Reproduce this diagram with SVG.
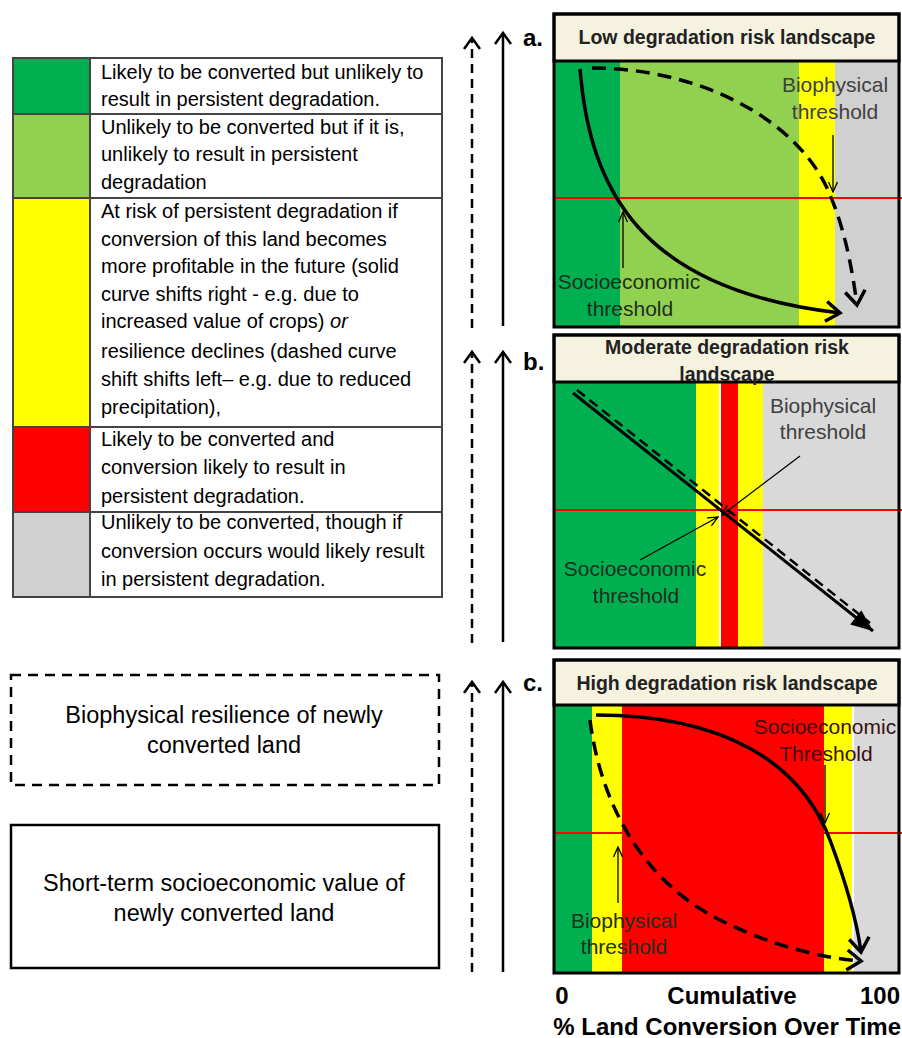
<svg xmlns="http://www.w3.org/2000/svg" width="902" height="1038" viewBox="0 0 902 1038">
<style>
.lg{font-family:"Liberation Sans",Arial,sans-serif;font-size:20px;fill:#000}
.bx{font-family:"Liberation Sans",Arial,sans-serif;font-size:23.5px;fill:#000;text-anchor:middle}
.hd{font-family:"Liberation Sans",Arial,sans-serif;font-size:19.5px;font-weight:bold;fill:#222;text-anchor:middle}
.lbl{font-family:"Liberation Sans",Arial,sans-serif;font-size:24px;font-weight:bold;fill:#000}
.th{font-family:"Liberation Sans",Arial,sans-serif;font-size:21px;text-anchor:middle}
.ax{font-family:"Liberation Sans",Arial,sans-serif;font-size:24px;font-weight:bold;fill:#000}
.cell{stroke:#444;stroke-width:2}
.frame{fill:none;stroke:#000;stroke-width:3}
.hdr{fill:#F5F2E0;stroke:#000;stroke-width:3}
.rl{stroke:#FF0000;stroke-width:2}
.big{fill:none;stroke:#000;stroke-width:3.5}
.dsh{stroke-dasharray:14 8}
.va{fill:none;stroke:#000;stroke-width:2.5}
.thin{fill:none;stroke:#000;stroke-width:1.3}
</style>
<defs>
<marker id="chevB" markerUnits="userSpaceOnUse" markerWidth="26" markerHeight="26" viewBox="0 0 26 26" refX="22" refY="13" orient="auto"><path d="M8,3 L22,13 L8,23" fill="none" stroke="#000" stroke-width="3.5"/></marker>
<marker id="chevS" markerUnits="userSpaceOnUse" markerWidth="20" markerHeight="20" viewBox="0 0 20 20" refX="17" refY="10" orient="auto"><path d="M6,2 L17,10 L6,18" fill="none" stroke="#000" stroke-width="2.5"/></marker>
<marker id="tri" markerUnits="userSpaceOnUse" markerWidth="26" markerHeight="26" viewBox="0 0 26 26" refX="24" refY="13" orient="auto"><path d="M2,4 L24,13 L2,22 z" fill="#000"/></marker>
<marker id="sm" markerUnits="userSpaceOnUse" markerWidth="12" markerHeight="12" viewBox="0 0 12 12" refX="11" refY="6" orient="auto"><path d="M1,1.5 L11,6 L1,10.5" fill="none" stroke="#000" stroke-width="1.3"/></marker>
</defs>
<rect width="902" height="1038" fill="#fff"/>

<!-- Legend -->
<g id="legend">
<rect x="13" y="58" width="77" height="56" fill="#00B050" class="cell"/>
<rect x="90" y="58" width="352" height="56" fill="#fff" class="cell"/>
<rect x="13" y="114" width="77" height="84" fill="#92D050" class="cell"/>
<rect x="90" y="114" width="352" height="84" fill="#fff" class="cell"/>
<rect x="13" y="198" width="77" height="229" fill="#FFFF00" class="cell"/>
<rect x="90" y="198" width="352" height="229" fill="#fff" class="cell"/>
<rect x="13" y="427" width="77" height="85" fill="#FF0000" class="cell"/>
<rect x="90" y="427" width="352" height="85" fill="#fff" class="cell"/>
<rect x="13" y="512" width="77" height="85" fill="#D0D0D0" class="cell"/>
<rect x="90" y="512" width="352" height="85" fill="#fff" class="cell"/>
<text class="lg" x="101" y="79">Likely to be converted but unlikely to</text>
<text class="lg" x="101" y="106">result in persistent degradation.</text>
<text class="lg" x="101" y="134">Unlikely to be converted but if it is,</text>
<text class="lg" x="101" y="161">unlikely to result in persistent</text>
<text class="lg" x="101" y="189">degradation</text>
<text class="lg" x="101" y="218">At risk of persistent degradation if</text>
<text class="lg" x="101" y="246">conversion of this land becomes</text>
<text class="lg" x="101" y="273">more profitable in the future (solid</text>
<text class="lg" x="101" y="301">curve shifts right - e.g. due to</text>
<text class="lg" x="101" y="328">increased value of crops) <tspan font-style="italic">or</tspan></text>
<text class="lg" x="101" y="358">resilience declines (dashed curve</text>
<text class="lg" x="101" y="386">shift shifts left– e.g. due to reduced</text>
<text class="lg" x="101" y="414">precipitation),</text>
<text class="lg" x="101" y="446">Likely to be converted and</text>
<text class="lg" x="101" y="474">conversion likely to result in</text>
<text class="lg" x="101" y="503">persistent degradation.</text>
<text class="lg" x="101" y="529">Unlikely to be converted, though if</text>
<text class="lg" x="101" y="558">conversion occurs would likely result</text>
<text class="lg" x="101" y="586">in persistent degradation.</text>
</g>

<g id="box-biophysical">
<rect x="11" y="675" width="428" height="110" fill="none" stroke="#000" stroke-width="2.5" stroke-dasharray="10 7"/>
<text class="bx" x="224" y="723">Biophysical resilience of newly</text>
<text class="bx" x="224" y="753">converted land</text>
</g>
<g id="box-socioeconomic">
<rect x="11" y="825" width="428" height="143" fill="none" stroke="#000" stroke-width="2.5"/>
<text class="bx" x="224" y="891">Short-term socioeconomic value of</text>
<text class="bx" x="224" y="921">newly converted land</text>
</g>

<!-- Panel a -->
<g id="panel-a">
<rect x="553" y="61" width="67" height="266" fill="#00B050"/>
<rect x="620" y="61" width="179" height="266" fill="#92D050"/>
<rect x="799" y="61" width="36" height="266" fill="#FFFF00"/>
<rect x="835" y="61" width="65" height="266" fill="#D0D0D0"/>
<line class="rl" x1="553" y1="198" x2="902" y2="198"/>
<rect class="hdr" x="554" y="14" width="345" height="47"/>
<text class="hd" x="727" y="44">Low  degradation  risk  landscape</text>
<rect class="frame" x="554" y="14" width="345" height="313"/>
<text class="lbl" x="523" y="46">a.</text>
<text class="th" x="835" y="92" fill="#404040">Biophysical</text>
<text class="th" x="835" y="119" fill="#404040">threshold</text>
<text class="th" x="629" y="289" fill="#1E2E1E">Socioeconomic</text>
<text class="th" x="630" y="316" fill="#1E2E1E">threshold</text>
</g>

<!-- Panel b -->
<g id="panel-b">
<rect x="553" y="382" width="143" height="266" fill="#00B050"/>
<rect x="696" y="382" width="23" height="266" fill="#FFFF00"/>
<rect x="721" y="382" width="17" height="266" fill="#FF0000"/>
<rect x="738" y="382" width="25" height="266" fill="#FFFF00"/>
<rect x="763" y="382" width="137" height="266" fill="#D9D9D9"/>
<line class="rl" x1="553" y1="510" x2="902" y2="510"/>
<rect class="hdr" x="554" y="335" width="345" height="47"/>
<text class="hd" x="727" y="354">Moderate  degradation  risk</text>
<text class="hd" x="727" y="381">landscape</text>
<rect class="frame" x="554" y="335" width="345" height="313"/>
<text class="lbl" x="523" y="370">b.</text>
<text class="th" x="823" y="413" fill="#404040">Biophysical</text>
<text class="th" x="823" y="439" fill="#404040">threshold</text>
<text class="th" x="635" y="576" fill="#1E2E1E">Socioeconomic</text>
<text class="th" x="636" y="603" fill="#1E2E1E">threshold</text>
</g>

<!-- Panel c -->
<g id="panel-c">
<rect x="553" y="705" width="39" height="268" fill="#00B050"/>
<rect x="592" y="705" width="30" height="268" fill="#FFFF00"/>
<rect x="622" y="705" width="202" height="268" fill="#FF0000"/>
<rect x="824" y="705" width="28" height="268" fill="#FFFF00"/>
<rect x="854" y="705" width="46" height="268" fill="#D9D9D9"/>
<line class="rl" x1="553" y1="833" x2="902" y2="833"/>
<rect class="hdr" x="554" y="660" width="345" height="45"/>
<text class="hd" x="727" y="690">High  degradation  risk  landscape</text>
<rect class="frame" x="554" y="660" width="345" height="313"/>
<text class="lbl" x="523" y="691">c.</text>
<text class="th" x="825" y="734" fill="#3A1010">Socioeconomic</text>
<text class="th" x="826" y="761" fill="#3A1010">Threshold</text>
<text class="th" x="624" y="928" fill="#1E2E1E">Biophysical</text>
<text class="th" x="624" y="954" fill="#1E2E1E">threshold</text>
</g>

<!-- Axis -->
<g id="axis">
<text class="ax" x="562" y="1004" text-anchor="middle">0</text>
<text class="ax" x="732" y="1004" text-anchor="middle">Cumulative</text>
<text class="ax" x="900" y="1004" text-anchor="end">100</text>
<text class="ax" x="901" y="1035" text-anchor="end">% Land Conversion Over Time</text>
</g>

<g id="connectors">
<!-- left vertical arrows -->
<line class="va" x1="472" y1="328" x2="472" y2="38" stroke-dasharray="9 6" marker-end="url(#chevS)"/>
<line class="va" x1="503" y1="326" x2="503" y2="33" marker-end="url(#chevS)"/>
<line class="va" x1="472" y1="643" x2="472" y2="352" stroke-dasharray="9 6" marker-end="url(#chevS)"/>
<line class="va" x1="503" y1="642" x2="503" y2="352" marker-end="url(#chevS)"/>
<line class="va" x1="472" y1="972" x2="472" y2="682" stroke-dasharray="9 6" marker-end="url(#chevS)"/>
<line class="va" x1="503" y1="972" x2="503" y2="682" marker-end="url(#chevS)"/>
<!-- panel a curves -->
<path class="big" d="M580,69 C590,190 640,290 840,313" marker-end="url(#chevB)"/>
<path class="big dsh" d="M592,68 C700,68 800,120 830,195 C845,230 852,268 857,305" marker-end="url(#chevB)"/>
<line class="thin" x1="833" y1="135" x2="833" y2="192" marker-end="url(#sm)"/>
<line class="thin" x1="623" y1="268" x2="623" y2="212" marker-end="url(#sm)"/>
<!-- panel b -->
<line x1="573" y1="393" x2="873" y2="631" stroke="#000" stroke-width="3" marker-end="url(#tri)"/>
<line x1="577" y1="390" x2="870" y2="623" stroke="#000" stroke-width="2.5" stroke-dasharray="10 6"/>
<line class="thin" x1="800" y1="456" x2="722" y2="515" marker-end="url(#sm)"/>
<line class="thin" x1="640" y1="560" x2="718" y2="517" marker-end="url(#sm)"/>
<!-- panel c -->
<path class="big" d="M596,715 C720,715 800,760 830,840 C845,880 856,915 861,952" marker-end="url(#chevB)"/>
<path class="big dsh" d="M590,720 C600,800 640,880 720,920 C770,945 820,958 861,961" marker-end="url(#chevB)"/>
<line class="thin" x1="825" y1="765" x2="825" y2="823" marker-end="url(#sm)"/>
<line class="thin" x1="618" y1="903" x2="618" y2="847" marker-end="url(#sm)"/>
</g>
</svg>
